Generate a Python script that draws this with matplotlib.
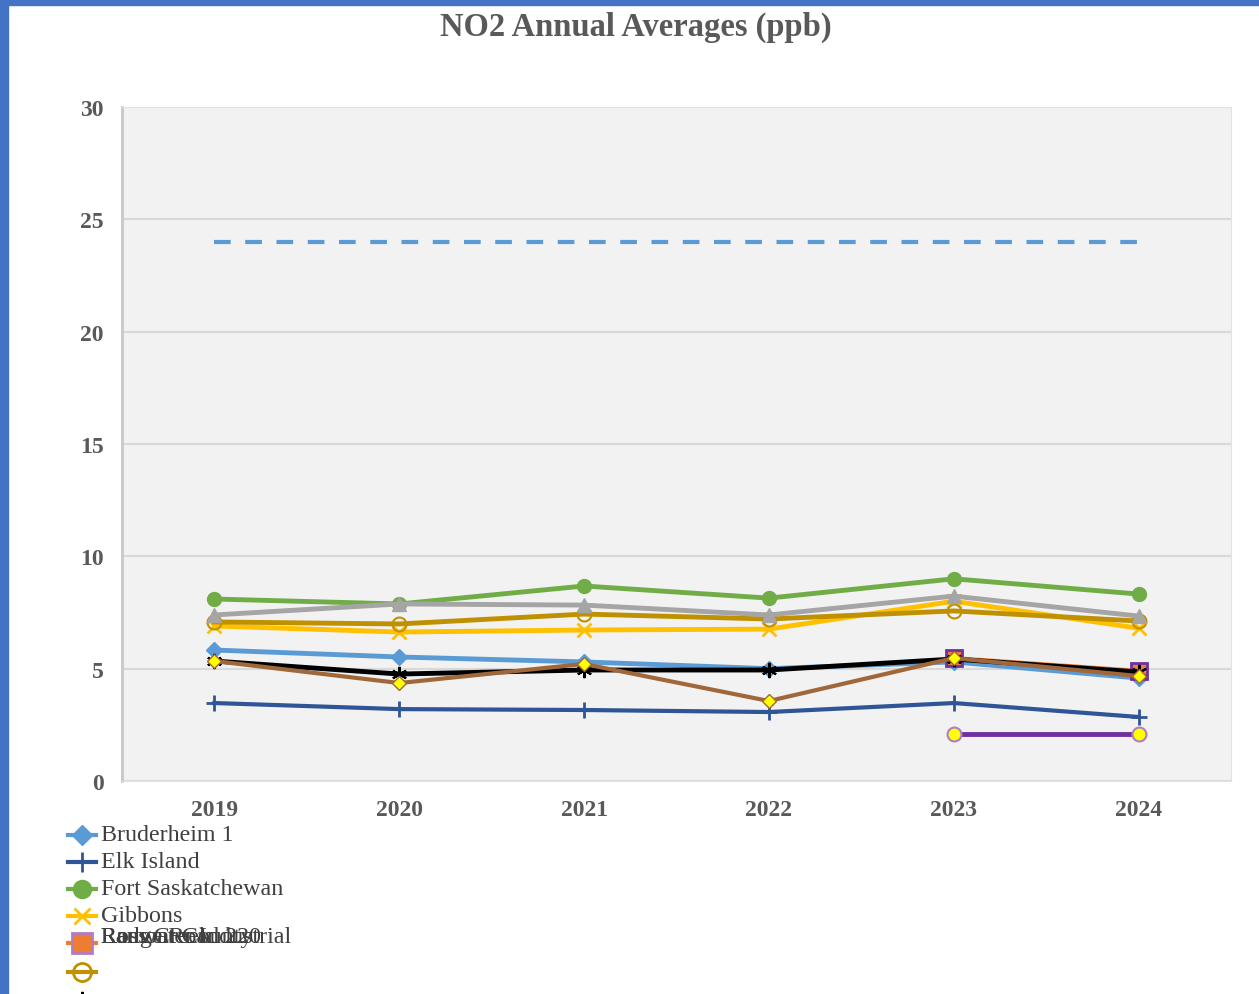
import matplotlib.pyplot as plt
from matplotlib.lines import Line2D
from matplotlib.patches import Rectangle

plt.rcParams['font.family'] = ['Liberation Serif', 'DejaVu Serif']

years = ['2019', '2020', '2021', '2022', '2023', '2024']

bruderheim_1 = [5.83, 5.52, 5.30, 5.00, 5.30, 4.58]
elk_island = [3.47, 3.20, 3.16, 3.07, 3.47, 2.85]
fort_sask = [8.10, 7.88, 8.68, 8.14, 9.00, 8.32]
gibbons = [6.90, 6.63, 6.72, 6.76, 8.00, 6.80]
lamont_county = [None, None, None, None, 5.47, 4.90]
redwater = [7.08, 6.99, 7.43, 7.21, 7.57, 7.12]
ross_creek = [5.34, 4.76, 4.94, 4.94, 5.43, 4.85]
scotford = [7.39, 7.88, 7.83, 7.39, 8.23, 7.34]
range_road = [5.34, 4.36, 5.21, 3.56, 5.47, 4.67]
josephburg = [None, None, None, None, 2.09, 2.09]
objective = [24, 24, 24, 24, 24, 24]

y_ticks = [0, 5, 10, 15, 20, 25, 30]

W, H = 1259, 995
fig = plt.figure(figsize=(W / 100, H / 100), dpi=100)
fig.patch.set_facecolor('white')


def fx(x):
    return x / W


def fy(y):
    return 1 - y / H


ax = fig.add_axes([fx(122), fy(782), fx(1231) - fx(122), (782 - 108) / H])
ax.set_facecolor('#F2F2F2')

xs = list(range(len(years)))


def draw(vals, **kw):
    pts = [(x, v) for x, v in zip(xs, vals) if v is not None]
    ax.plot([p[0] for p in pts], [p[1] for p in pts], **kw)


draw(objective, color='#5B9BD5', lw=3, ls=(0, (4, 3.5)), zorder=2)
draw(bruderheim_1, color='#5B9BD5', lw=3.5, marker='D', ms=8, zorder=3)
draw(elk_island, color='#2F5597', lw=3, marker='+', ms=12, mew=2, zorder=3)
draw(fort_sask, color='#70AD47', lw=3.5, marker='o', ms=10, zorder=3)
draw(gibbons, color='#FFC000', lw=3.5, marker='x', ms=10, mew=2, zorder=3)
draw(lamont_county, color='#ED7D31', lw=3, marker='s', ms=11, mfc='#ED7D31',
     mec='#7030A0', mew=2, zorder=3)
draw(redwater, color='#BF9000', lw=3.5, marker='o', ms=10, mfc='none',
     mec='#BF9000', mew=1.5, zorder=3)
draw(scotford, color='#A5A5A5', lw=3.5, marker='^', ms=10, zorder=3)
draw(ross_creek, color='black', lw=3.5, marker=(6, 2, 0), ms=11, mew=1.5, zorder=4)
draw(range_road, color='#A0683A', lw=3, marker='D', ms=7, mfc='#FFFF00',
     mec='#A0683A', mew=1, zorder=5)
draw(josephburg, color='#7030A0', lw=3.5, marker='o', ms=10, mfc='#FFFF00',
     mec='#B07CC6', mew=1.5, zorder=5)

ax.set_xlim(-0.5, len(years) - 0.5)
ax.set_ylim(0, 30)
ax.set_xticks(xs)
ax.set_xticklabels(years)
ax.set_yticks(y_ticks)
ax.grid(axis='y', color='#D9D9D9', lw=1.5)
ax.set_axisbelow(True)
ax.tick_params(length=0, labelsize=17, labelcolor='#595959', pad=13)
for lab in ax.get_xticklabels() + ax.get_yticklabels():
    lab.set_fontweight('bold')
for s in ['top', 'right', 'bottom']:
    ax.spines[s].set_color('#E3E3E3')
ax.spines['left'].set_color('#C8C8C8')
ax.spines['left'].set_linewidth(2)

fig.text(fx(636), fy(27), 'NO2 Annual Averages (ppb)', ha='center', va='center',
         fontsize=23.5, fontweight='bold', color='#595959')

# legend drawn by hand so the overflowing entries stack on one row
tr = fig.transFigure


def key(y, color, lw=3, **kw):
    fig.add_artist(Line2D([fx(68), fx(96)], [fy(y), fy(y)], color=color, lw=lw,
                          transform=tr))
    fig.add_artist(Line2D([fx(82)], [fy(y)], color=color, transform=tr, **kw))


def label(y, text):
    fig.text(fx(101), fy(y), text, ha='left', va='center', fontsize=17.3,
             color='#404040')


key(836, '#5B9BD5', marker='D', ms=10)
label(836, 'Bruderheim 1')
key(863, '#2F5597', marker='+', ms=14, mew=2)
label(863, 'Elk Island')
key(890, '#70AD47', marker='o', ms=13)
label(890, 'Fort Saskatchewan')
key(917, '#FFC000', marker='x', ms=11, mew=2)
label(917, 'Gibbons')
key(944, '#ED7D31', marker='s', ms=14, mfc='#ED7D31', mec='#B07CC6', mew=2)
for name in ['Lamont County', 'Range Road 220', 'Redwater Industrial',
             'Ross Creek']:
    label(938, name)
key(973, '#BF9000', marker='o', ms=13, mfc='none', mec='#BF9000', mew=2)
key(1000, 'black', lw=0, marker=(6, 2, 0), ms=11, mew=1.5)

# frame around the chart
fig.add_artist(Rectangle((0, fy(6)), 1, 6 / H, transform=tr, color='#4472C4',
                         zorder=10))
fig.add_artist(Rectangle((0, 0), 8 / W, 1, transform=tr, color='#4472C4',
                         zorder=10))

fig.savefig('out.png', dpi=100)
